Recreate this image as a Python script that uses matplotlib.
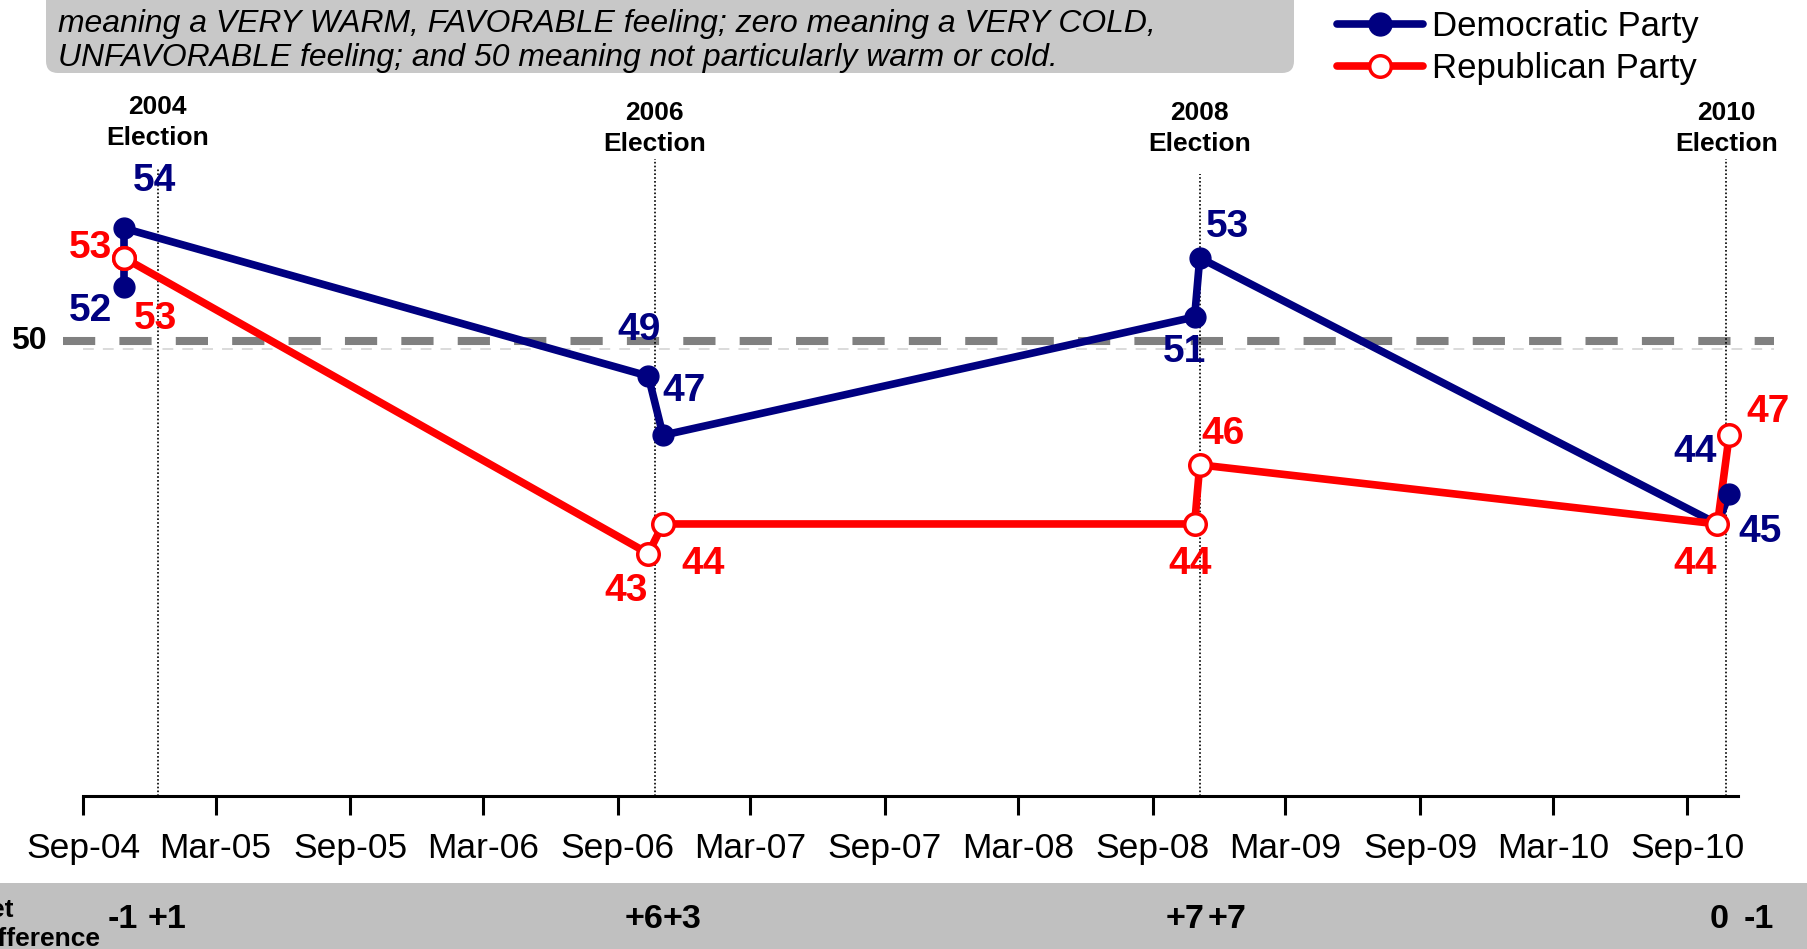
import datetime as dt

import matplotlib
matplotlib.use("Agg")
import matplotlib.dates as mdates
import matplotlib.pyplot as plt
from matplotlib import font_manager
from matplotlib.lines import Line2D
from matplotlib.patches import FancyBboxPatch, Rectangle
from matplotlib.transforms import blended_transform_factory, offset_copy

# two readings around each election
poll_dates = ["2004-10-27", "2004-10-27", "2006-10-13", "2006-11-02",
              "2008-10-28", "2008-11-04", "2010-10-12", "2010-10-28"]
dem_values = [52, 54, 49, 47, 51, 53, 44, 45]
rep_values = [53, 53, 43, 44, 44, 46, 44, 47]
net_difference = ["-1", "+1", "+6", "+3", "+7", "+7", "0", "-1"]

election_dates = ["2004-12-12", "2006-10-22", "2008-11-04", "2010-10-24"]
election_labels = ["2004\nElection", "2006\nElection", "2008\nElection", "2010\nElection"]

note_lines = ["meaning a VERY WARM, FAVORABLE feeling; zero meaning a VERY COLD,",
              "UNFAVORABLE feeling; and 50 meaning not particularly warm or cold."]

# label placement (offset points from each marker)
dem_offsets = [(-24, -17), (22, 34), (-7, 33), (15, 32), (-7, -25), (20, 22), (-16, 52), (22, -27)]
rep_offsets = [(-24, 7), (23, -44), (-16, -27), (29, -29), (-3, -29), (17, 22), (-16, -29), (28, 17)]
net_offsets = [-1, 31, -3, 14, -7, 20, 1, 21]
election_label_y = [56.65, 56.44, 56.44, 56.44]
election_line_top = [56.04, 56.34, 55.83, 56.34]

BLUE = "#000080"
RED = "#FF0000"

names = {f.name for f in font_manager.fontManager.ttflist}
if "Liberation Sans Narrow" in names:
    NARROW, NSCALE = "Liberation Sans Narrow", 1.0
else:
    NARROW, NSCALE = "Liberation Sans", 0.82

plt.rcParams["font.family"] = ["Liberation Sans", "DejaVu Sans"]


def to_date(s):
    return dt.datetime.strptime(s, "%Y-%m-%d")


x = [to_date(d) for d in poll_dates]
ex = [to_date(d) for d in election_dates]

fig = plt.figure(figsize=(18.08, 9.49), dpi=100)
ax = fig.add_axes([83 / 1808, 153 / 949, 1655 / 1808, 686 / 949])
ax.set_ylim(34.8, 58)
ax.set_xlim(dt.datetime(2004, 9, 1), dt.datetime(2010, 11, 9))

for s in ["left", "top", "right"]:
    ax.spines[s].set_visible(False)
ax.spines["bottom"].set_linewidth(2.2)
ax.set_yticks([])
ax.xaxis.set_major_locator(mdates.MonthLocator(bymonth=(3, 9)))
ax.xaxis.set_major_formatter(mdates.DateFormatter("%b-%y"))
ax.tick_params(axis="x", direction="out", length=14, width=2.2, pad=12, labelsize=25.5)

# 50 reference line (drawn slightly above the data 50, as in the original)
ref = blended_transform_factory(ax.transAxes, ax.transData)
thick = offset_copy(ref, fig=fig, y=3.7, units="points")
thin = offset_copy(ref, fig=fig, y=-2.0, units="points")
ax.plot([-0.012, 1.022], [50, 50], transform=thick, color="#808080", lw=5.8, dashes=(4, 3),
        clip_on=False, zorder=1, solid_capstyle="butt")
ax.plot([0, 1.022], [50, 50], transform=thin, color="#D8D8D8", lw=1.3, dashes=(6, 5), clip_on=False, zorder=1)
ax.text(-0.033, 50, "50", transform=thick, ha="center", va="center", fontsize=23, fontweight="bold")

# election markers
for xe, lab, ly, top in zip(ex, election_labels, election_label_y, election_line_top):
    ax.plot([xe, xe], [34.8, top], color="black", lw=1.2, linestyle=(0, (1, 1.3)), zorder=2, clip_on=False)
    ax.text(xe, ly, lab, ha="center", va="bottom", fontsize=19, fontweight="bold", linespacing=1.38)

# series
ax.plot(x, dem_values, color=BLUE, lw=5.5, zorder=3, solid_capstyle="round")
ax.plot(x, rep_values, color=RED, lw=5.5, zorder=4, solid_capstyle="round")
ax.plot(x, dem_values, ls="none", marker="o", ms=15, color=BLUE, zorder=5, clip_on=False)
ax.plot(x, rep_values, ls="none", marker="o", ms=15.5, mfc="white", mec=RED, mew=2.5, zorder=6, clip_on=False)

for xi, v, off in zip(x, dem_values, dem_offsets):
    ax.annotate(str(v), (xi, v), xytext=off, textcoords="offset points", ha="center", va="center",
                color=BLUE, fontsize=28, fontweight="bold", annotation_clip=False)
for xi, v, off in zip(x, rep_values, rep_offsets):
    ax.annotate(str(v), (xi, v), xytext=off, textcoords="offset points", ha="center", va="center",
                color=RED, fontsize=28, fontweight="bold", annotation_clip=False)

# top note box
fig.patches.append(FancyBboxPatch((0.46, 8.76), 12.48, 1.6, boxstyle="round,pad=0,rounding_size=0.12",
                                  transform=fig.dpi_scale_trans, facecolor="#C8C8C8", edgecolor="none",
                                  zorder=-1))
for line, base in zip(note_lines, [9.17, 8.83]):
    fig.text(0.58, base, line, transform=fig.dpi_scale_trans, ha="left", va="baseline",
             fontsize=28 * NSCALE, fontstyle="italic", family=NARROW)

# net difference band
fig.patches.append(Rectangle((0, 0), 18.08, 0.66, transform=fig.dpi_scale_trans,
                             facecolor="#C0C0C0", edgecolor="none", zorder=-1))
fig.text(1.0, 0.245, "Net\nDifference", transform=fig.dpi_scale_trans, ha="right", va="center",
         multialignment="left", fontsize=19, fontweight="bold", family=NARROW, linespacing=1.25)
band = blended_transform_factory(ax.transData, fig.dpi_scale_trans)
for xi, txt, off in zip(x, net_difference, net_offsets):
    fig.text(mdates.date2num(xi), 0.30, txt, transform=offset_copy(band, fig=fig, x=off, units="points"),
             ha="center", va="center", fontsize=30 * NSCALE, fontweight="bold", family=NARROW)

# legend
handles = [Line2D([], [], color=BLUE, lw=5.5, marker="o", ms=16.5, solid_capstyle="round"),
           Line2D([], [], color=RED, lw=5.5, marker="o", ms=15.5, mfc="white", mec=RED, mew=2.5,
                  solid_capstyle="round")]
fig.legend(handles, ["Democratic Party", "Republican Party"], loc="upper left",
           bbox_to_anchor=(1337 / 1808, 1 - 10 / 949), frameon=False, fontsize=25, numpoints=1,
           handlelength=2.48, handletextpad=0.26, labelspacing=0.26, borderpad=0, borderaxespad=0)

fig.savefig("out.png", dpi=100)
